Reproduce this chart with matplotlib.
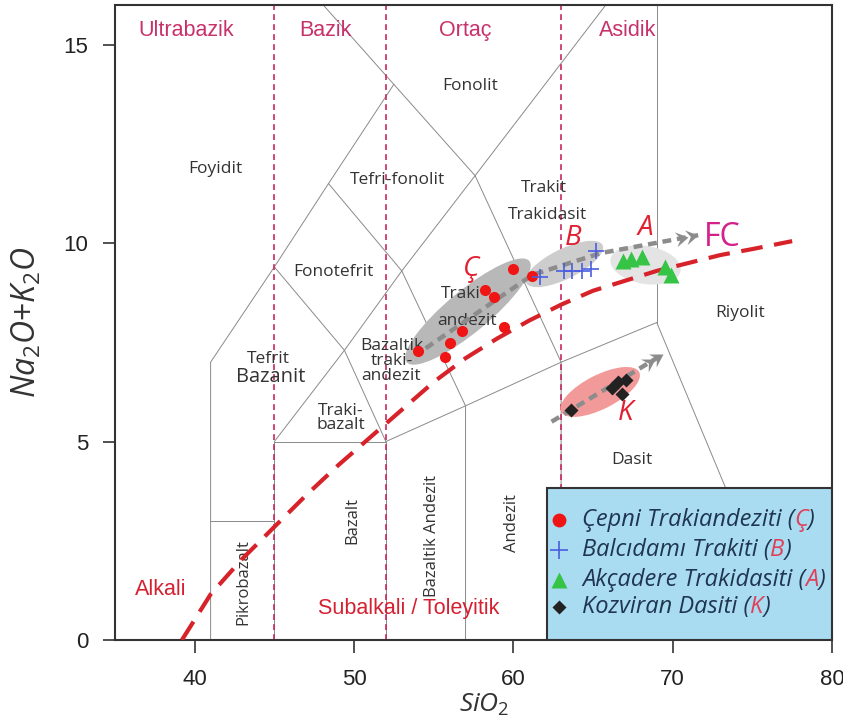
import matplotlib
matplotlib.use('Agg')
import matplotlib.pyplot as plt
import numpy as np
from matplotlib.patches import Ellipse, Rectangle
from matplotlib.path import Path
from matplotlib.markers import MarkerStyle
from matplotlib.transforms import Affine2D, IdentityTransform

plt.rcParams['mathtext.fontset'] = 'custom'
plt.rcParams['mathtext.it'] = 'Open Sans:italic'
plt.rcParams['mathtext.rm'] = 'Open Sans'
plt.rcParams['mathtext.sf'] = 'Open Sans'

# ---------------- data ----------------
cepni_sio2 = [60.0, 61.2, 58.2, 58.8, 59.4, 56.8, 56.0, 54.0, 55.7]
cepni_alk = [9.34, 9.16, 8.81, 8.63, 7.89, 7.78, 7.48, 7.28, 7.13]
balc_sio2 = [61.7, 63.2, 63.7, 64.3, 64.9, 65.2]
balc_alk = [9.15, 9.30, 9.30, 9.30, 9.35, 9.80]
akc_sio2 = [66.9, 67.4, 68.1, 69.5, 69.9]
akc_alk = [9.55, 9.60, 9.65, 9.40, 9.20]
koz_sio2 = [63.6, 66.2, 66.6, 67.1, 66.8]
koz_alk = [5.80, 6.35, 6.50, 6.55, 6.20]

# alkaline / subalkaline divide
ib_sio2 = [39.2, 41, 43, 45, 47, 49, 51, 53, 55, 57, 59, 61, 63, 65, 67, 69, 71, 73, 75, 77.5]
ib_alk = [0.0, 1.15, 2.05, 2.85, 3.65, 4.4, 5.1, 5.8, 6.5, 7.1, 7.6, 8.05, 8.45, 8.8, 9.05, 9.3, 9.5, 9.7, 9.85, 10.05]

# fractional crystallisation trends
fc_sio2 = [54.5, 61.2, 65.5, 71.6]
fc_alk = [7.35, 9.2, 9.75, 10.2]
k_sio2 = [62.4, 69.4]
k_alk = [5.5, 7.2]

# TAS boundaries
tas_lines = [
    [(41, 0), (41, 7), (45, 9.4), (48.4, 11.5), (52.5, 14), (57.6, 11.7), (63, 7), (69, 8), (77.3, 0)],
    [(48.07, 16), (52.5, 14)],
    [(41, 3), (45, 3)],
    [(45, 0), (45, 5), (52, 5), (52, 0)],
    [(45, 9.4), (49.4, 7.3), (52, 5)],
    [(45, 5), (49.4, 7.3), (53, 9.3), (57.6, 11.7), (65.8, 16)],
    [(48.4, 11.5), (53, 9.3), (57, 5.9), (57, 0)],
    [(52, 5), (57, 5.9), (63, 7), (63, 0)],
    [(69, 8), (69, 16)],
]
class_bounds = [45, 52, 63]

fig = plt.figure(figsize=(8.43, 7.22), dpi=100)
ax = fig.add_axes([115/843, 82/722, (832-115)/843, (717-82)/722])
ax.set_xlim(35, 80)
ax.set_ylim(0, 16)

for seg in tas_lines:
    xs, ys = zip(*seg)
    ax.plot(xs, ys, color='#8a8a8a', lw=0.7, zorder=1)

for xb in class_bounds:
    ax.axvline(xb, color='#c8285e', lw=1.2, dashes=(3.5, 2.5), zorder=1.5)

ax.plot(ib_sio2, ib_alk, color='#d7222a', lw=3.0, dashes=(5.2, 2.8), zorder=4, solid_capstyle='butt')


def ellipse(p1, p2, minor_px, **kw):
    a = ax.transData.transform(p1)
    b = ax.transData.transform(p2)
    c = (a + b) / 2
    d = b - a
    L = np.hypot(*d)
    ang = np.degrees(np.arctan2(d[1], d[0]))
    e = Ellipse(c, L, minor_px, angle=ang, transform=IdentityTransform(), **kw)
    ax.add_patch(e)


ellipse((53.3, 7.0), (61.0, 9.55), 42, facecolor='#b8b8b8', edgecolor='none', zorder=2)
ellipse((60.8, 9.0), (65.6, 9.95), 30, facecolor='#cdcdcd', edgecolor='none', zorder=2)
ellipse((66.1, 9.6), (70.5, 9.3), 38, facecolor='#e4e4e4', edgecolor='none', zorder=2)
ellipse((63.0, 5.75), (67.9, 6.75), 34, facecolor='#f29a9a', edgecolor='none', zorder=2)


def chevrons(xs, ys, color, size=18, gap=10):
    E = ax.transData.transform((xs[-1], ys[-1]))
    P = ax.transData.transform((xs[-2], ys[-2]))
    d = E - P
    u = d / np.hypot(*d)
    ang = np.degrees(np.arctan2(d[1], d[0]))
    verts = [(0, 0), (-1, 0.6), (-0.62, 0), (-1, -0.6), (0, 0)]
    codes = [Path.MOVETO, Path.LINETO, Path.LINETO, Path.LINETO, Path.CLOSEPOLY]
    m = MarkerStyle(Path(verts, codes), transform=Affine2D().rotate_deg(ang))
    for k in range(2):
        c = E - u * gap * k
        ax.plot([c[0]], [c[1]], marker=m, ms=size, color=color, mec='none',
                transform=IdentityTransform(), zorder=6)


ax.plot(fc_sio2, fc_alk, color='#8c8c8c', lw=3.2, dashes=(2.0, 1.3), zorder=5)
chevrons(fc_sio2, fc_alk, '#8c8c8c')
ax.plot(k_sio2, k_alk, color='#8c8c8c', lw=3.2, dashes=(2.0, 1.3), zorder=5)
chevrons(k_sio2, k_alk, '#8c8c8c')

ax.plot(cepni_sio2, cepni_alk, 'o', color='#f01515', ms=8, mec='none', zorder=7)
ax.plot(balc_sio2, balc_alk, '+', color='#4a5de0', ms=11, mew=1.2, zorder=7)
ax.plot(akc_sio2, akc_alk, '^', color='#35c445', ms=11, mec='none', zorder=7)
ax.plot(koz_sio2, koz_alk, 'D', color='#222222', ms=7, mec='none', zorder=7)

# ---------- labels ----------
tf = dict(family=['Open Sans', 'DejaVu Sans'], color='#333333', fontsize=12.5, ha='center', va='center', zorder=3)
names = [
    ('Foyidit', 41.3, 11.88), ('Fonolit', 57.3, 13.97), ('Tefri-fonolit', 52.73, 11.58),
    ('Fonotefrit', 48.71, 9.26), ('Trakit', 61.94, 11.38), ('Trakidasit', 62.13, 10.72),
    ('Tefrit', 44.64, 7.07),
    ('Traki', 56.68, 8.73), ('andezit', 57.1, 8.03), ('Riyolit', 74.23, 8.23), ('Dasit', 67.46, 4.53),
]
for s, x, y in names:
    ax.text(x, y, s, **tf)
ax.text(52.35, 7.02, 'Bazaltik\ntraki-\nandezit', linespacing=0.92, **tf)
ax.text(49.15, 5.59, 'Traki-\nbazalt', linespacing=0.85, **tf)
ax.text(44.8, 6.62, 'Bazanit', **{**tf, 'fontsize': 14.5})
for s, x, y in [('Pikrobazalt', 43.07, 1.45), ('Bazalt', 49.9, 3.0),
                ('Bazaltik Andezit', 54.9, 2.62), ('Andezit', 59.94, 2.94)]:
    ax.text(x, y, s, rotation=90, **{**tf, 'fontsize': 12})

cf = dict(family=['Liberation Sans', 'DejaVu Sans'], color='#c8326a', fontsize=15.5, ha='center', va='center', zorder=3)
for s, x, y in [('Ultrabazik', 39.44, 15.35), ('Bazik', 48.2, 15.35), ('Ortaç', 56.99, 15.35), ('Asidik', 67.2, 15.35)]:
    ax.text(x, y, s, **cf)
rf = {**cf, 'color': '#d42030'}
ax.text(37.87, 1.26, 'Alkali', **rf)
ax.text(53.42, 0.8, 'Subalkali / Toleyitik', **rf)

gf = dict(family=['Open Sans', 'DejaVu Sans'], style='italic', color='#e02030', fontsize=20, ha='center', va='center', zorder=8)
for s, x, y in [('Ç', 57.37, 9.36), ('B', 63.76, 10.14), ('A', 68.28, 10.37), ('K', 67.02, 5.71)]:
    ax.text(x, y, s, **gf)
ax.text(73.1, 10.14, 'FC', family=['Open Sans', 'DejaVu Sans'], color='#d4208a', fontsize=23,
        ha='center', va='center', zorder=8)

# ---------- legend ----------
ax.add_patch(Rectangle((62.13, 0), 80 - 62.13, 3.83, facecolor='#a9dbf1', edgecolor='#333333',
                       lw=1.5, zorder=9))
leg_names = ['Çepni Trakiandeziti (', 'Balcıdamı Trakiti (', 'Akçadere Trakidasiti (', 'Kozviran Dasiti (']
leg_tags = ['Ç', 'B', 'A', 'K']
leg_y = [3.02, 2.27, 1.51, 0.83]
leg_mk = [dict(marker='o', color='#f01515', ms=10, mec='none'),
          dict(marker='+', color='#4a5de0', ms=13, mew=1.2),
          dict(marker='^', color='#35c445', ms=12, mec='none'),
          dict(marker='D', color='#222222', ms=7, mec='none')]
lf = dict(family=['Open Sans', 'DejaVu Sans'], style='italic', fontsize=17, zorder=10)
for name, tag, y, mk in zip(leg_names, leg_tags, leg_y, leg_mk):
    ax.plot([62.85], [y], zorder=10, **mk)
    t1 = ax.text(64.3, y, name, color='#1f3550', ha='left', va='center', **lf)
    t2 = ax.annotate(tag, xy=(1, 0), xycoords=t1, ha='left', va='bottom', color='#e0405a', **lf)
    ax.annotate(')', xy=(1, 0), xycoords=t2, ha='left', va='bottom', color='#1f3550', **lf)

# ---------- axes ----------
ax.set_xticks([40, 50, 60, 70, 80])
ax.set_yticks([0, 5, 10, 15])
for sp in ax.spines.values():
    sp.set_linewidth(1.5)
    sp.set_color('#333333')
ax.tick_params(axis='both', direction='out', length=9, width=1.2, color='#333333', labelsize=16)
ax.tick_params(axis='x', pad=12)
ax.tick_params(axis='y', pad=10)
for lab in ax.get_xticklabels() + ax.get_yticklabels():
    lab.set_family(['Liberation Sans', 'DejaVu Sans'])
    lab.set_color('#222222')
ax.set_xlabel('$SiO_2$', fontsize=19, color='#333333')
ax.set_ylabel('$Na_2O{+}K_2O$', fontsize=23, color='#333333')
ax.xaxis.set_label_coords(0.515, -0.082)
ax.yaxis.set_label_coords(-0.1, 0.5)

fig.savefig('out.png', dpi=100)
